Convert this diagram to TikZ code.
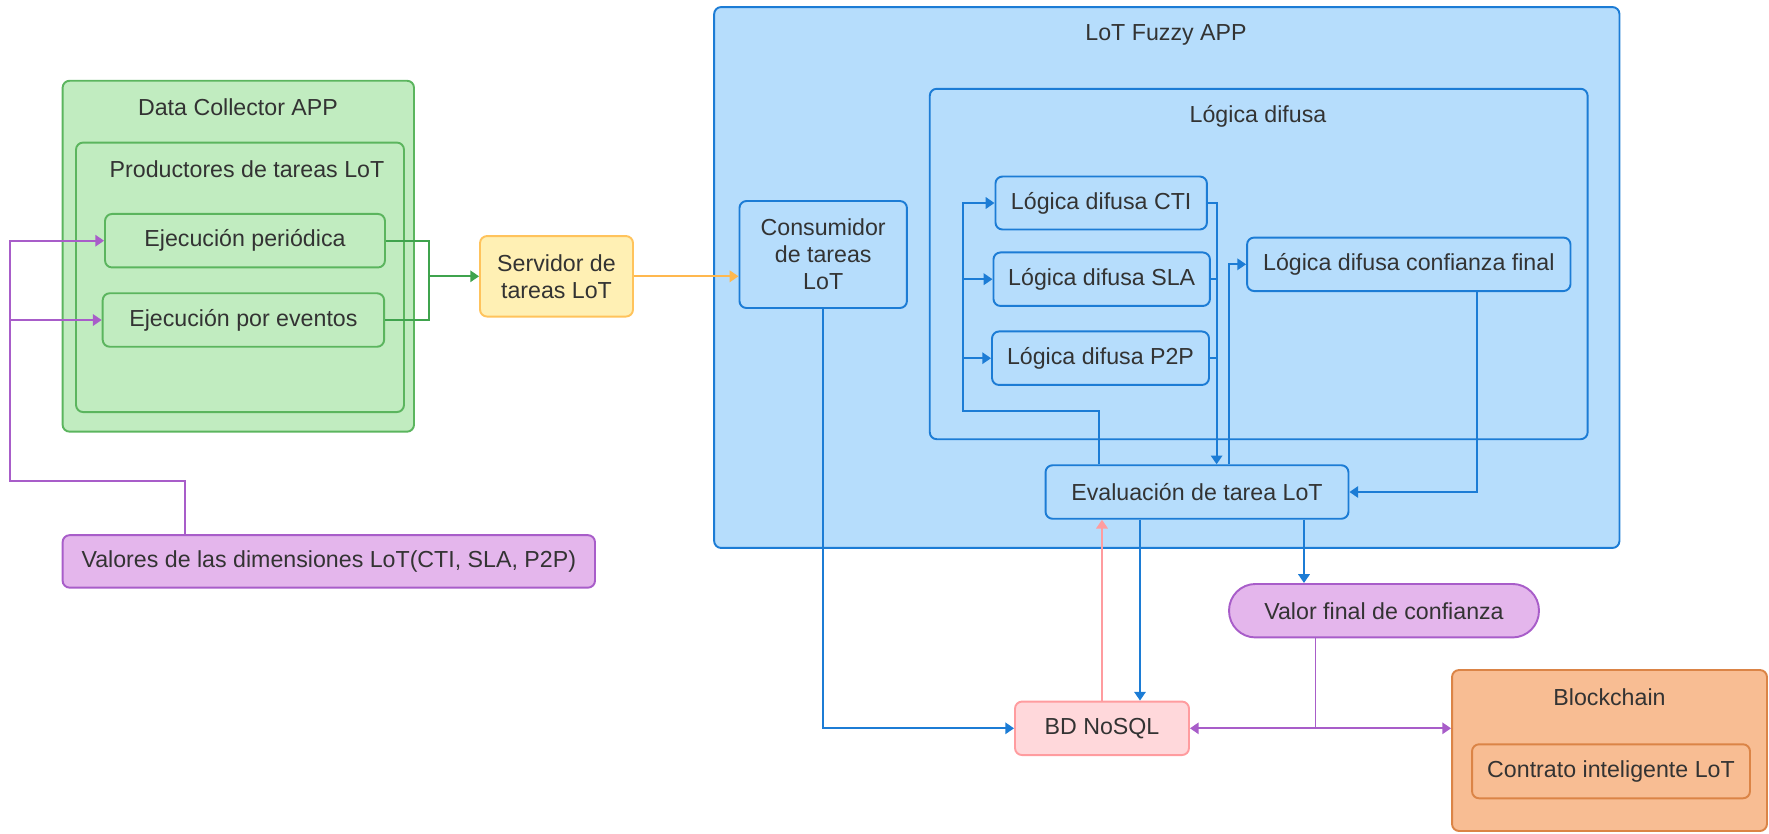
\documentclass[tikz,border=0pt]{standalone}
\usepackage{fontspec}
\setmainfont{Liberation Sans}
\usetikzlibrary{arrows.meta}
\definecolor{txtgray}{HTML}{333333}
\definecolor{grnfill}{HTML}{C1ECC0}
\definecolor{grnline}{HTML}{5BB55E}
\definecolor{grnconn}{HTML}{3FA34D}
\definecolor{bluefill}{HTML}{B6DDFC}
\definecolor{blueline}{HTML}{1C7CD5}
\definecolor{yelfill}{HTML}{FFF0B4}
\definecolor{yelline}{HTML}{FFC35C}
\definecolor{orconn}{HTML}{FFB84F}
\definecolor{purfill}{HTML}{E4B6EC}
\definecolor{purline}{HTML}{A85DC9}
\definecolor{pinkfill}{HTML}{FFD8DB}
\definecolor{pinkline}{HTML}{FF9C9F}
\definecolor{orfill}{HTML}{F8BD93}
\definecolor{orline}{HTML}{DB8446}
\begin{document}
\begin{tikzpicture}[x=0.02cm,y=-0.02cm,
	box/.style={draw,rounded corners=4pt,line width=1.1pt,inner sep=0pt,align=center,text=txtgray,font=\fontsize{13.2}{15.3}\selectfont},
	grnbox/.style={box,fill=grnfill,draw=grnline},
	bluebox/.style={box,fill=bluefill,draw=blueline},
	yelbox/.style={box,fill=yelfill,draw=yelline},
	purbox/.style={box,fill=purfill,draw=purline},
	pinkbox/.style={box,fill=pinkfill,draw=pinkline},
	orbox/.style={box,fill=orfill,draw=orline},
	title/.style={text=txtgray,inner sep=0pt,font=\fontsize{13.2}{15.3}\selectfont},
	conn/.style={line width=1.1pt},
	arr/.style={conn,-{Triangle[length=5pt,width=6.5pt]}}]
	\useasboundingbox (0,0) rectangle (1769,833);

	\node[grnbox,minimum width=7.03cm,minimum height=7.02cm] (dcapp) at (238.3,256.2) {};
	\node[title] (dctitle) at (238,107) {Data Collector APP};
	\node[grnbox,minimum width=6.56cm,minimum height=5.39cm] (prod) at (240,277.3) {};
	\node[title] (prodtitle) at (247,169) {Productores de tareas LoT};
	\node[grnbox,minimum width=5.60cm,minimum height=1.07cm] (periodica) at (245,240.7) {Ejecución periódica};
	\node[grnbox,minimum width=5.63cm,minimum height=1.07cm] (eventos) at (243.4,320) {Ejecución por eventos};
	\node[yelbox,minimum width=3.06cm,minimum height=1.61cm] (servidor) at (556.5,276.3) {Servidor de\\tareas LoT};
	\node[purbox,minimum width=10.65cm,minimum height=1.05cm] (valores) at (328.8,561.4) {Valores de las dimensiones LoT(CTI, SLA, P2P)};

	\node[bluebox,minimum width=18.11cm,minimum height=10.82cm] (fuzzyapp) at (1166.8,277.5) {};
	\node[title] (fuzzytitle) at (1166,35) {LoT Fuzzy APP};
	\node[bluebox,minimum width=13.16cm,minimum height=7.01cm] (difusa) at (1258.7,264) {};
	\node[title] (difusatitle) at (1258,116) {Lógica difusa};
	\node[bluebox,minimum width=3.35cm,minimum height=2.14cm] (consumidor) at (823.2,254.5) {Consumidor\\de tareas\\LoT};
	\node[bluebox,minimum width=4.23cm,minimum height=1.06cm] (cti) at (1101.2,203) {Lógica difusa CTI};
	\node[bluebox,minimum width=4.33cm,minimum height=1.07cm] (sla) at (1101.7,279.2) {Lógica difusa SLA};
	\node[bluebox,minimum width=4.34cm,minimum height=1.07cm] (p2p) at (1100.5,358.2) {Lógica difusa P2P};
	\node[bluebox,minimum width=6.47cm,minimum height=1.07cm] (confianza) at (1408.8,264.3) {Lógica difusa confianza final};
	\node[bluebox,minimum width=6.06cm,minimum height=1.07cm] (evaluacion) at (1197,492) {Evaluación de tarea LoT};

	\node[purbox,rounded corners=0.53cm,minimum width=6.20cm,minimum height=1.07cm] (valor) at (1384,610.7) {Valor final de confianza};
	\node[pinkbox,minimum width=3.48cm,minimum height=1.07cm] (bd) at (1102,728.3) {BD NoSQL};
	\node[orbox,minimum width=6.30cm,minimum height=3.22cm] (blockchain) at (1609.5,750.5) {};
	\node[title] (blocktitle) at (1609.5,697) {Blockchain};
	\node[orbox,minimum width=5.56cm,minimum height=1.08cm] (contrato) at (1611,771.3) {Contrato inteligente LoT};

	\coordinate (gjoin) at (428.6,280);
	\coordinate (pbend) at (185,481);
	\coordinate (pcorner) at (9.8,481);
	\coordinate (loopr) at (1098.6,410.7);
	\coordinate (loopl) at (962.8,410.7);
	\coordinate (colcti) at (1216.6,0);
	\coordinate (colfin) at (1229,0);
	\coordinate (colconf) at (1476.8,0);
	\coordinate (colbd) at (1140,0);
	\coordinate (colvalor) at (1304,0);
	\coordinate (vjoin) at (1315.5,728.3);

	\draw[conn,grnconn] (periodica.east) -| (gjoin) |- (eventos.east);
	\draw[arr,grnconn] (gjoin |- servidor.west) -- (servidor.west);
	\draw[arr,orconn] (servidor.east) -- (servidor.east -| consumidor.west);
	\draw[arr,purline] (valores.north -| pbend) -- (pbend) -- (pcorner) |- (periodica.west);
	\draw[arr,purline] (pcorner |- eventos.west) -- (eventos.west);

	\draw[arr,blueline] (loopr |- evaluacion.north) -- (loopr) -- (loopl) |- (cti.west);
	\draw[arr,blueline] (loopl |- sla.west) -- (sla.west);
	\draw[arr,blueline] (loopl |- p2p.west) -- (p2p.west);
	\draw[arr,blueline] (cti.east) -| (colcti |- evaluacion.north);
	\draw[conn,blueline] (sla.east) -- (sla.east -| colcti);
	\draw[conn,blueline] (p2p.east) -- (p2p.east -| colcti);
	\draw[arr,blueline] (colfin |- evaluacion.north) |- (confianza.west);
	\draw[arr,blueline] (colconf |- confianza.south) |- (evaluacion.east);
	\draw[arr,blueline] (consumidor.south) |- (bd.west);
	\draw[arr,blueline] (colbd |- evaluacion.south) -- (colbd |- bd.north);
	\draw[arr,blueline] (colvalor |- evaluacion.south) -- (colvalor |- valor.north);
	\draw[arr,pinkline] (bd.north) -- (bd.north |- evaluacion.south);

	\draw[conn,purline] (vjoin |- valor.south) -- (vjoin);
	\draw[arr,purline] (vjoin) -- (bd.east);
	\draw[arr,purline] (vjoin) -- (vjoin -| blockchain.west);
\end{tikzpicture}
\end{document}
